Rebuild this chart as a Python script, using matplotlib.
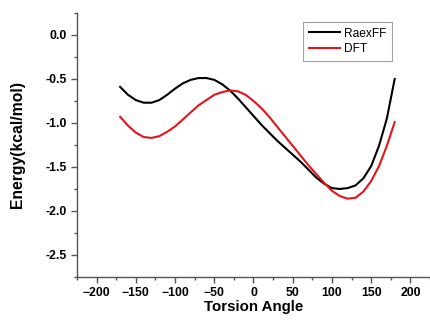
import matplotlib
matplotlib.use("Agg")
import matplotlib.pyplot as plt
from matplotlib.ticker import MultipleLocator, FormatStrFormatter

angle = [-170, -160, -150, -140, -130, -120, -110, -100, -90, -80, -70, -60,
         -50, -40, -30, -20, -10, 0, 10, 20, 30, 40, 50, 60, 70, 80, 90, 100,
         110, 120, 130, 140, 150, 160, 170, 180]
reaxff = [-0.59, -0.68, -0.74, -0.77, -0.77, -0.74, -0.68, -0.61, -0.55, -0.51,
          -0.49, -0.49, -0.51, -0.56, -0.63, -0.72, -0.82, -0.92, -1.02, -1.11,
          -1.20, -1.28, -1.36, -1.44, -1.53, -1.62, -1.69, -1.74, -1.75, -1.74,
          -1.71, -1.63, -1.49, -1.26, -0.95, -0.50]
dft = [-0.93, -1.03, -1.11, -1.16, -1.17, -1.15, -1.10, -1.04, -0.96, -0.88,
       -0.80, -0.74, -0.68, -0.65, -0.63, -0.64, -0.68, -0.75, -0.83, -0.93,
       -1.04, -1.15, -1.26, -1.37, -1.48, -1.58, -1.68, -1.77, -1.83, -1.86,
       -1.85, -1.78, -1.66, -1.49, -1.26, -0.99]

plt.rcParams['font.family'] = ['Liberation Sans', 'DejaVu Sans']
plt.rcParams['lines.solid_joinstyle'] = 'round'

fig = plt.figure(figsize=(4.3, 3.23), dpi=100)
ax = fig.add_axes([0.179, 0.1424, 0.821, 0.8176])

ax.plot(angle, reaxff, color='black', lw=1.5, label='RaexFF')
ax.plot(angle, dft, color='#e3141b', lw=1.5, label='DFT')

ax.set_xlim(-225, 225)
ax.set_ylim(-2.75, 0.25)
ax.xaxis.set_major_locator(MultipleLocator(50))
ax.xaxis.set_minor_locator(MultipleLocator(25))
ax.yaxis.set_major_locator(MultipleLocator(0.5))
ax.yaxis.set_minor_locator(MultipleLocator(0.25))
ax.yaxis.set_major_formatter(FormatStrFormatter('%.1f'))

for s in ['top', 'right']:
    ax.spines[s].set_visible(False)
for s in ['left', 'bottom']:
    ax.spines[s].set_color('#555555')
    ax.spines[s].set_linewidth(1.0)

ax.tick_params(which='major', direction='out', length=4, width=1, color='#555555',
               labelsize=8.8, pad=3)
ax.tick_params(which='minor', direction='out', length=2.5, width=1, color='#555555')
for lab in ax.get_xticklabels() + ax.get_yticklabels():
    lab.set_fontweight('bold')

ax.set_xlabel('Torsion Angle', fontsize=10.8, fontweight='bold', labelpad=1)
ax.set_ylabel('Energy(kcal/mol)', fontsize=11.3, fontweight='bold', labelpad=15)

leg = ax.legend(loc='upper left', bbox_to_anchor=(0.641, 0.967), fontsize=8.6,
                frameon=True, fancybox=False, handlelength=2.6, handletextpad=0.3,
                borderpad=0.5, labelspacing=0.3, borderaxespad=0)
leg.get_frame().set_edgecolor('#888888')
leg.get_frame().set_linewidth(0.8)

fig.savefig('out.png', dpi=100)
